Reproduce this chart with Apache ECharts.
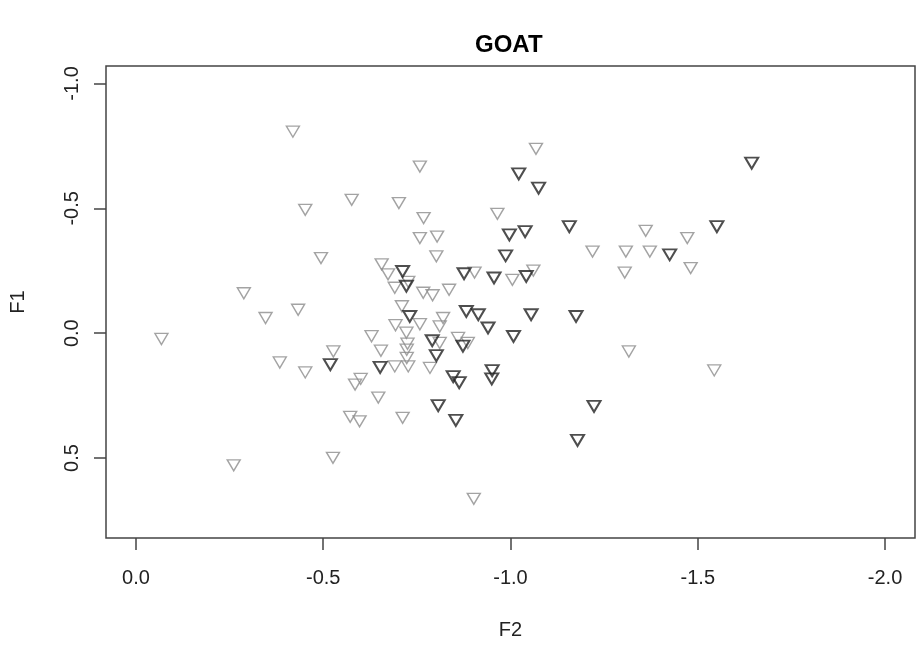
<!DOCTYPE html>
<html>
<head>
<meta charset="utf-8">
<script src="https://cdn.jsdelivr.net/npm/echarts@6/dist/echarts.min.js"></script>
<style>html,body{margin:0;padding:0;background:#fff}#c{width:919px;height:645px}</style>
</head>
<body>
<div id="c"></div>
<script>
// Grey (light) points
var lightF2 = [-0.419,-0.452,-0.576,-0.494,-0.656,-0.673,-0.288,-1.068,-0.758,-0.702,-0.768,-0.965,-1.361,-0.758,-0.804,-0.802,-1.219,-1.308,-1.372,-1.305,-0.727,-0.691,-0.767,-0.792,-0.836,-0.904,-1.005,-1.061,-1.472,-1.481,-0.346,-0.433,-0.068,-0.629,-0.654,-0.527,-0.384,-0.452,-0.585,-0.600,-0.647,-0.572,-0.597,-0.526,-0.261,-0.710,-0.820,-0.758,-0.693,-0.811,-0.722,-0.811,-0.860,-0.886,-0.725,-0.723,-0.723,-0.727,-0.691,-0.785,-1.316,-0.712,-0.902,-1.544];
var lightF1 = [-0.807,-0.494,-0.534,-0.301,-0.276,-0.236,-0.160,-0.738,-0.667,-0.521,-0.461,-0.478,-0.410,-0.381,-0.387,-0.308,-0.327,-0.327,-0.327,-0.243,-0.206,-0.182,-0.162,-0.152,-0.174,-0.243,-0.214,-0.251,-0.381,-0.261,-0.061,-0.094,0.023,0.012,0.070,0.073,0.117,0.157,0.206,0.183,0.258,0.335,0.353,0.499,0.529,-0.108,-0.061,-0.036,-0.032,-0.027,-0.002,0.039,0.019,0.039,0.042,0.066,0.099,0.133,0.133,0.139,0.073,0.339,0.663,0.149];
// Dark points
var darkF2 = [-1.022,-1.075,-1.157,-0.997,-1.039,-0.987,-1.425,-0.712,-0.722,-0.876,-0.956,-1.042,-1.644,-1.551,-0.519,-0.652,-0.731,-0.882,-0.914,-0.940,-1.055,-1.175,-1.008,-0.791,-0.873,-0.802,-0.951,-0.950,-0.847,-0.863,-1.223,-0.807,-0.854,-1.179];
var darkF1 = [-0.638,-0.581,-0.427,-0.394,-0.407,-0.310,-0.314,-0.247,-0.188,-0.238,-0.221,-0.227,-0.681,-0.427,0.126,0.137,-0.067,-0.087,-0.074,-0.021,-0.074,-0.067,0.013,0.030,0.052,0.090,0.150,0.183,0.174,0.198,0.293,0.290,0.349,0.429];
var xTicks = [0, -0.5, -1.0, -1.5, -2.0];
var yTicks = [-1.0, -0.5, 0.0, 0.5];
var titleText = 'GOAT';
var xName = 'F2';
var yName = 'F1';

function zip(a, b) { var r = []; for (var i = 0; i < a.length; i++) r.push([a[i], b[i]]); return r; }

var FONT = '"Liberation Sans", Arial, Helvetica, sans-serif';
var tri = 'path://M0,0 L20,0 L10,17.3 Z';

var chart = echarts.init(document.getElementById('c'), null, {renderer: 'canvas'});
chart.setOption({
  animation: false,
  backgroundColor: '#fff',
  graphic: [{
    type: 'text', left: 475, top: 33,
    style: { text: titleText, font: 'bold 24px ' + FONT, fill: '#000' }
  }],
  grid: { left: 104, right: 4, top: 66, bottom: 107, show: true, borderColor: '#444', borderWidth: 1.5, backgroundColor: 'transparent' },
  xAxis: {
    type: 'value', inverse: true, min: -2.08, max: 0.08,
    name: xName, nameLocation: 'middle', nameGap: 82,
    nameTextStyle: { fontFamily: FONT, fontSize: 20, color: '#222' },
    axisLine: { show: false, onZero: false },
    splitLine: { show: false },
    axisTick: { show: true, length: 12, customValues: xTicks, lineStyle: { color: '#444', width: 1.5 } },
    axisLabel: { customValues: xTicks, margin: 30, fontFamily: FONT, fontSize: 20, color: '#222',
      formatter: function (v) { return v.toFixed(1); } }
  },
  yAxis: {
    type: 'value', inverse: true, min: -1.07, max: 0.82,
    name: yName, nameLocation: 'middle', nameGap: 78, nameRotate: 90,
    nameTextStyle: { fontFamily: FONT, fontSize: 20, color: '#222' },
    axisLine: { show: false, onZero: false },
    splitLine: { show: false },
    axisTick: { show: true, length: 12, customValues: yTicks, lineStyle: { color: '#444', width: 1.5 } },
    axisLabel: { customValues: yTicks, rotate: 90, margin: 24, fontFamily: FONT, fontSize: 20, color: '#222',
      formatter: function (v) { return v.toFixed(1); } }
  },
  series: [{
    type: 'scatter', data: zip(lightF2, lightF1), symbol: tri, symbolSize: [13, 11],
    itemStyle: { color: 'rgba(255,255,255,0)', borderColor: '#8c8c8c', borderWidth: 1.4 },
    emphasis: { disabled: true }, silent: true
  }, {
    type: 'scatter', data: zip(darkF2, darkF1), symbol: tri, symbolSize: [13, 11],
    itemStyle: { color: 'rgba(255,255,255,0)', borderColor: '#222', borderWidth: 2 },
    emphasis: { disabled: true }, silent: true
  }]
});
</script>
</body>
</html>
